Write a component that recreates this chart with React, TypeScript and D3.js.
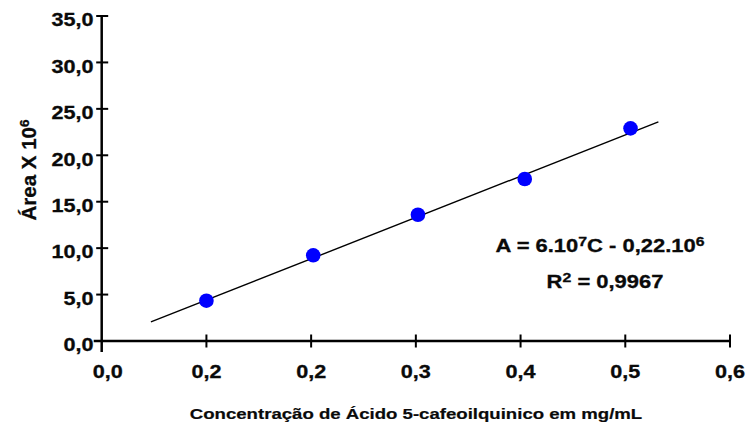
import React from "react";
import * as d3 from "d3";

const concentrations = [0.1, 0.202, 0.302, 0.404, 0.505];
const areas = [4.34, 9.23, 13.6, 17.45, 22.9];
const fitX = [0.047, 0.5316];
const fitY = [2.05, 23.6];
const xTicks = [0, 0.1, 0.2, 0.3, 0.4, 0.5, 0.6];
const xTickLabels = ["0,0", "0,2", "0,2", "0,3", "0,4", "0,5", "0,6"];
const yTicks = [0, 5, 10, 15, 20, 25, 30, 35];
const yTickLabels = ["0,0", "5,0", "10,0", "15,0", "20,0", "25,0", "30,0", "35,0"];

const W = 747;
const H = 430;
const FONT = "'Liberation Sans', Arial, sans-serif";
const SX = 1.2;
const INK = "#0a0a0a";
const TXT = { fill: INK, stroke: INK, strokeWidth: 0.3 };

export default function App() {
  const x = d3.scaleLinear().domain([0, 0.6]).range([101.7, 730]);
  const y = d3.scaleLinear().domain([0, 35]).range([341, 16]);
  const fitLine = d3
    .line<number>()
    .x((d, i) => x(fitX[i]))
    .y((d, i) => y(fitY[i]));

  return (
    <svg
      width={W}
      height={H}
      style={{ position: "absolute", left: 0, top: 0, background: "#fff" }}
      fontFamily={FONT}
      fontWeight="bold"
    >
      <rect width={W} height={H} fill="#fff" />
      {/* axes */}
      <line x1={x(0)} x2={x(0)} y1={y(35)} y2={y(0) + 11} stroke="#000" strokeWidth={2.5} />
      <line x1={x(0) - 8} x2={x(0.6)} y1={y(0)} y2={y(0)} stroke="#000" strokeWidth={2.5} />
      {yTicks.map((t, i) => (
        <g key={"y" + i}>
          {t !== 0 && (
            <line x1={x(0) - 5.5} x2={x(0) + 6.5} y1={y(t)} y2={y(t)} stroke="#000" strokeWidth={2} />
          )}
          <g transform={`translate(93.5,${y(t) + 10.3}) scale(${SX},1)`}>
            <text textAnchor="end" fontSize={18} {...TXT}>
              {yTickLabels[i]}
            </text>
          </g>
        </g>
      ))}
      {xTicks.map((t, i) => (
        <g key={"x" + i}>
          {t !== 0 && (
            <line x1={x(t)} x2={x(t)} y1={y(0) - 6.5} y2={y(0) + 6.5} stroke="#000" strokeWidth={2} />
          )}
          <g transform={`translate(${x(t) + (i === 0 ? 6 : 0)},378) scale(${SX},1)`}>
            <text textAnchor="middle" fontSize={18} {...TXT}>
              {xTickLabels[i]}
            </text>
          </g>
        </g>
      ))}
      {/* fit line */}
      <path d={fitLine(fitX) || ""} fill="none" stroke="#000" strokeWidth={1.4} />
      {/* points */}
      {concentrations.map((c, i) => (
        <circle key={"p" + i} cx={x(c)} cy={y(areas[i])} r={7.3} fill="#0000ff" />
      ))}
      {/* equation */}
      <g transform={`translate(600,251.7) scale(1.22,1)`}>
        <text textAnchor="middle" fontSize={18} {...TXT}>
          A = 6.10<tspan dy={-6} fontSize={13}>7</tspan>
          <tspan dy={6}>C - 0,22.10</tspan>
          <tspan dy={-6} fontSize={13}>6</tspan>
        </text>
      </g>
      <g transform={`translate(605,287.7) scale(1.22,1)`}>
        <text textAnchor="middle" fontSize={18} {...TXT}>
          R<tspan dy={-6} fontSize={13}>2</tspan>
          <tspan dy={6}> = 0,9967</tspan>
        </text>
      </g>
      {/* axis titles */}
      <text
        transform="translate(36,170) rotate(-90)"
        textAnchor="middle"
        fontSize={20.5}
        {...TXT}
      >
        Área X 10<tspan dy={-7.5} fontSize={13.5}>6</tspan>
      </text>
      <g transform={`translate(416,419) scale(${SX},1)`}>
        <text textAnchor="middle" fontSize={15.5} {...TXT} strokeWidth={0.2}>
          Concentração de Ácido 5-cafeoilquinico em mg/mL
        </text>
      </g>
    </svg>
  );
}
